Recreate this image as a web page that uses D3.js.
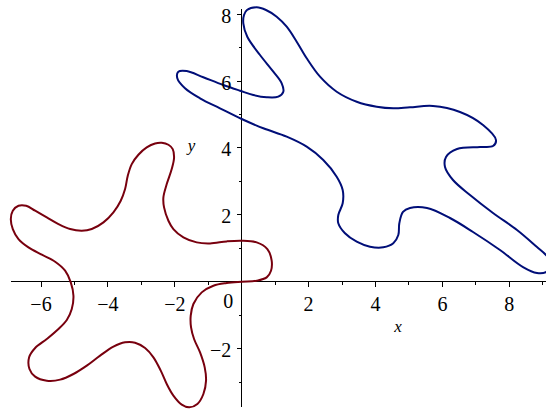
<!DOCTYPE html>
<html>
<head>
<meta charset="utf-8">
<script src="https://cdn.jsdelivr.net/npm/d3@7"></script>
<style>
  html, body { margin: 0; padding: 0; background: #fff; }
  svg { display: block; }
</style>
</head>
<body>
<svg id="chart" width="546" height="411"></svg>
<script>
// ---- data ----
const redX = [0, 0.448, 0.747, 0.876, 0.896, 0.767, 0.448, 0, -0.448, -0.946, -1.345, -1.743, -2.042, -2.191, -2.321, -2.341, -2.241, -2.092, -2.022, -2.062, -2.191, -2.390, -2.590, -2.839, -3.088, -3.287, -3.406, -3.486, -3.616, -3.835, -4.133, -4.482, -4.781, -5.129, -5.478, -5.827, -6.175, -6.444, -6.673, -6.843, -6.902, -6.843, -6.673, -6.375, -5.976, -5.578, -5.279, -5.110, -5.030, -5.080, -5.229, -5.478, -5.827, -6.175, -6.355, -6.345, -6.175, -5.827, -5.428, -5.030, -4.631, -4.233, -3.835, -3.486, -3.187, -2.888, -2.639, -2.420, -2.241, -2.042, -1.793, -1.564, -1.325, -1.145, -1.066, -1.106, -1.245, -1.424, -1.514, -1.524, -1.444, -1.195, -0.847, -0.448];
const redY = [0, 0.030, 0.129, 0.329, 0.627, 0.976, 1.175, 1.225, 1.205, 1.145, 1.175, 1.325, 1.574, 1.823, 2.221, 2.520, 2.918, 3.367, 3.715, 3.964, 4.094, 4.153, 4.133, 4.014, 3.795, 3.516, 3.167, 2.769, 2.420, 2.072, 1.773, 1.574, 1.524, 1.574, 1.723, 1.922, 2.122, 2.271, 2.271, 2.122, 1.873, 1.574, 1.275, 1.026, 0.807, 0.598, 0.329, -0.020, -0.418, -0.817, -1.145, -1.414, -1.713, -1.982, -2.261, -2.610, -2.839, -2.958, -2.928, -2.759, -2.510, -2.211, -1.942, -1.813, -1.823, -1.982, -2.261, -2.659, -3.058, -3.406, -3.675, -3.755, -3.655, -3.357, -2.958, -2.560, -2.112, -1.713, -1.365, -1.016, -0.667, -0.319, -0.120, -0.040];

const blueX = [0.448, 0.158, 0.069, 0.048, 0.167, 0.547, 0.945, 1.196, 1.244, 1.094, 0.747, 0.347, -0.051, -0.550, -1.148, -1.644, -1.895, -1.925, -1.695, -1.247, -0.649, 0, 0.646, 1.345, 1.943, 2.439, 2.840, 3.019, 3.019, 2.888, 2.888, 3.088, 3.438, 3.836, 4.233, 4.532, 4.682, 4.712, 4.822, 5.031, 5.540, 6.227, 6.915, 7.722, 8.410, 8.828, 9.097, 9.277, 9.097, 8.828, 8.230, 7.513, 6.825, 6.317, 6.078, 6.108, 6.437, 7.124, 7.513, 7.602, 7.214, 6.526, 5.719, 5.031, 4.532, 4.036, 3.438, 2.840, 2.341, 1.943, 1.644, 1.345, 1.046, 0.726];
const blueY = [8.203, 8.123, 7.973, 7.725, 7.324, 6.777, 6.278, 5.931, 5.680, 5.531, 5.513, 5.581, 5.710, 5.880, 6.111, 6.299, 6.278, 6.081, 5.782, 5.483, 5.184, 4.864, 4.586, 4.335, 4.036, 3.638, 3.139, 2.741, 2.344, 1.994, 1.746, 1.447, 1.196, 1.046, 1.028, 1.148, 1.396, 1.746, 2.084, 2.203, 2.203, 1.904, 1.486, 0.948, 0.439, 0.260, 0.290, 0.529, 0.798, 1.037, 1.546, 2.054, 2.592, 3.040, 3.429, 3.728, 3.967, 4.027, 4.057, 4.236, 4.685, 5.073, 5.253, 5.214, 5.184, 5.232, 5.381, 5.680, 6.129, 6.679, 7.175, 7.623, 7.922, 8.123];

const xMajor = [-6, -4, -2, 0, 2, 4, 6, 8];
const xMinor = [-5, -3, -1, 1, 3, 5, 7, 9];
const yMajor = [-2, 2, 4, 6, 8];
const yMinor = [-3, -1, 1, 3, 5, 7];
const xDomain = [-6.9, 9.1];
const yDomain = [-3.76, 8.2];

// ---- drawing ----
const svg = d3.select("#chart");
const unit = 33.45, ox = 241.7, oy = 281.7;
const x = d3.scaleLinear().domain(xDomain).range([ox + xDomain[0] * unit, ox + xDomain[1] * unit]);
const y = d3.scaleLinear().domain(yDomain).range([oy - yDomain[0] * unit, oy - yDomain[1] * unit]);
const fmt = v => (v < 0 ? "\u2212" + Math.abs(v) : String(v));
const font = "'Liberation Serif', 'Times New Roman', serif";

// curves
const line = d3.line().x(d => x(d[0])).y(d => y(d[1])).curve(d3.curveCatmullRomClosed.alpha(0.5));
const red = redX.map((v, i) => [v, redY[i]]);
const blue = blueX.map((v, i) => [v, blueY[i]]);

// axes
const g = svg.append("g").attr("stroke", "#000").attr("stroke-width", 1).attr("shape-rendering", "crispEdges");
g.append("line").attr("x1", x(xDomain[0])).attr("x2", x(xDomain[1])).attr("y1", y(0)).attr("y2", y(0));
g.append("line").attr("x1", x(0)).attr("x2", x(0)).attr("y1", y(yDomain[0])).attr("y2", y(yDomain[1]) + 1.5);
g.selectAll(".xM").data(xMajor.filter(v => v !== 0)).join("line")
  .attr("x1", d => x(d)).attr("x2", d => x(d)).attr("y1", y(0)).attr("y2", y(0) + 5);
g.selectAll(".xm").data(xMinor).join("line").attr("class", "xm")
  .attr("x1", d => x(d)).attr("x2", d => x(d)).attr("y1", y(0)).attr("y2", y(0) + 3);
g.selectAll(".yM").data(yMajor).join("line").attr("class", "yM")
  .attr("x1", x(0) - 5).attr("x2", x(0)).attr("y1", d => y(d)).attr("y2", d => y(d));
g.selectAll(".ym").data(yMinor).join("line").attr("class", "ym")
  .attr("x1", x(0) - 3).attr("x2", x(0)).attr("y1", d => y(d)).attr("y2", d => y(d));

svg.append("path").datum(red).attr("d", line).attr("fill", "none")
  .attr("stroke", "#78000E").attr("stroke-width", 2);
svg.append("path").datum(blue).attr("d", line).attr("fill", "none")
  .attr("stroke", "#000E78").attr("stroke-width", 2);

// tick labels
const t = svg.append("g").attr("font-family", font).attr("font-size", 20).attr("fill", "#000");
t.selectAll(".xl").data(xMajor).join("text").attr("class", "xl")
  .attr("x", d => d === 0 ? x(0) - 13.4 : x(d)).attr("y", d => d === 0 ? y(0) + 26.5 : y(0) + 29)
  .attr("text-anchor", "middle").text(fmt);
t.selectAll(".yl").data(yMajor).join("text").attr("class", "yl")
  .attr("x", x(0) - 10.5).attr("y", d => y(d) + 8.5)
  .attr("text-anchor", "end").text(fmt);

// axis titles
svg.append("text").attr("x", x(4.67)).attr("y", y(-1.5)).attr("font-family", font)
  .attr("font-style", "italic").attr("font-size", 17).attr("text-anchor", "middle").text("x");
svg.append("text").attr("x", x(-1.5)).attr("y", y(3.9)).attr("font-family", font)
  .attr("font-style", "italic").attr("font-size", 17).attr("text-anchor", "middle").text("y");
</script>
</body>
</html>
